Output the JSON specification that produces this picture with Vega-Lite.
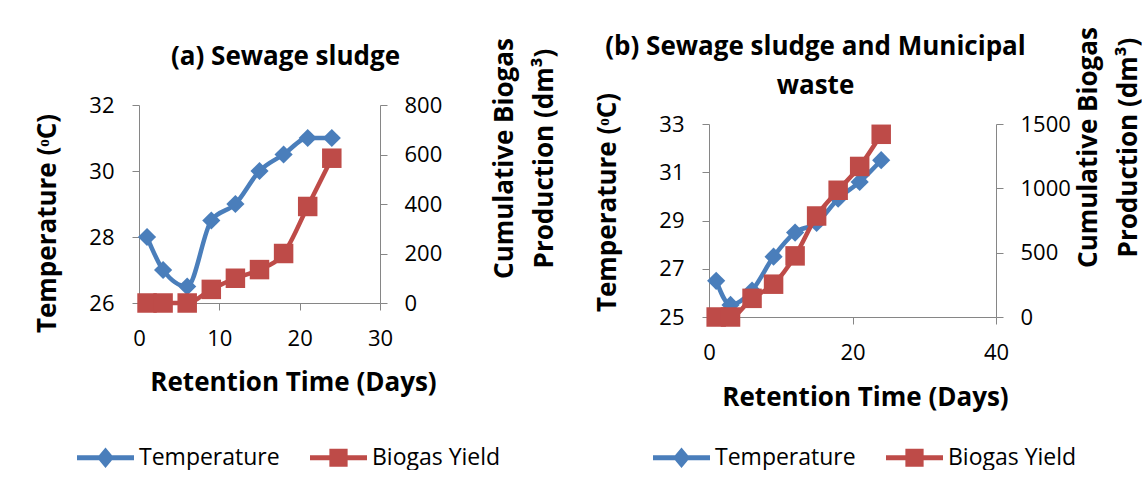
{
  "$schema": "https://vega.github.io/schema/vega-lite/v6.json",
  "background": "white",
  "padding": {"left": 34, "top": 26, "right": 0, "bottom": 0},
  "config": {
    "font": "Open Sans",
    "view": {"stroke": null},
    "axis": {"domainColor": "#868686", "tickColor": "#868686", "tickSize": 7, "labelFontSize": 22, "labelColor": "#000000", "titleFontSize": 26, "titleFontWeight": "bold", "titleColor": "#000000", "grid": false, "labelFont": "Open Sans", "titleFont": "Open Sans", "labelFlush": false, "labelOverlap": false}
  },
  "datasets": {
    "a": [
      {"day": 1, "series": "Temperature", "value": 28},
      {"day": 3, "series": "Temperature", "value": 27},
      {"day": 6, "series": "Temperature", "value": 26.5},
      {"day": 9, "series": "Temperature", "value": 28.5},
      {"day": 12, "series": "Temperature", "value": 29},
      {"day": 15, "series": "Temperature", "value": 30},
      {"day": 18, "series": "Temperature", "value": 30.5},
      {"day": 21, "series": "Temperature", "value": 31},
      {"day": 24, "series": "Temperature", "value": 31},
      {"day": 1, "series": "Biogas Yield", "value": 0},
      {"day": 3, "series": "Biogas Yield", "value": 0},
      {"day": 6, "series": "Biogas Yield", "value": 0},
      {"day": 9, "series": "Biogas Yield", "value": 55},
      {"day": 12, "series": "Biogas Yield", "value": 100},
      {"day": 15, "series": "Biogas Yield", "value": 135},
      {"day": 18, "series": "Biogas Yield", "value": 200},
      {"day": 21, "series": "Biogas Yield", "value": 390},
      {"day": 24, "series": "Biogas Yield", "value": 585}
    ],
    "b": [
      {"day": 1, "series": "Temperature", "value": 26.5},
      {"day": 3, "series": "Temperature", "value": 25.5},
      {"day": 6, "series": "Temperature", "value": 26.1},
      {"day": 9, "series": "Temperature", "value": 27.5},
      {"day": 12, "series": "Temperature", "value": 28.5},
      {"day": 15, "series": "Temperature", "value": 28.9},
      {"day": 18, "series": "Temperature", "value": 29.9},
      {"day": 21, "series": "Temperature", "value": 30.6},
      {"day": 24, "series": "Temperature", "value": 31.5},
      {"day": 1, "series": "Biogas Yield", "value": 0},
      {"day": 3, "series": "Biogas Yield", "value": 0},
      {"day": 6, "series": "Biogas Yield", "value": 145},
      {"day": 9, "series": "Biogas Yield", "value": 255},
      {"day": 12, "series": "Biogas Yield", "value": 475},
      {"day": 15, "series": "Biogas Yield", "value": 785},
      {"day": 18, "series": "Biogas Yield", "value": 985},
      {"day": 21, "series": "Biogas Yield", "value": 1170},
      {"day": 24, "series": "Biogas Yield", "value": 1420}
    ]
  },
  "columns": 2,
  "align": "none",
  "spacing": 36,
  "concat": [
    {
      "width": 241,
      "height": 198,
      "data": {"name": "a"},
      "layer": [
        {
          "transform": [{"filter": "datum.series === 'Temperature'"}],
          "mark": {"type": "line", "strokeWidth": 4.5, "interpolate": "monotone", "point": {"shape": "diamond", "size": 330, "filled": true, "opacity": 1}},
          "encoding": {
            "x": {"field": "day", "type": "quantitative", "scale": {"domain": [0, 30]}, "axis": {"orient": "bottom", "values": [0, 10, 20, 30], "title": "Retention Time (Days)", "titleX": 154, "titlePadding": 20, "labelPadding": 18}},
            "y": {"field": "value", "type": "quantitative", "scale": {"domain": [26, 32], "zero": false}, "axis": {"values": [26, 28, 30, 32], "title": "Temperature (ᵒC)", "titleY": 118, "titlePadding": 28, "labelPadding": 18}},
            "color": {"field": "series", "type": "nominal", "scale": {"domain": ["Temperature", "Biogas Yield"], "range": ["#4A7EBB", "#BE4B48"]},
              "legend": {"title": null, "orient": "none", "legendX": -62, "legendY": 324, "direction": "horizontal", "columns": 2, "padding": 0, "symbolSize": 3249, "labelFontSize": 23, "labelFont": "Open Sans", "labelColor": "#000000", "labelOffset": 5, "columnPadding": 30, "symbolStrokeWidth": 0,
                "encode": {"symbols": {"update": {
                  "shape": {"signal": "datum.value === 'Temperature' ? 'M-1,-0.085L1,-0.085L1,0.085L-1,0.085Z M0,-0.36L0.3,0L0,0.36L-0.3,0Z' : 'M-1,-0.085L1,-0.085L1,0.085L-1,0.085Z M-0.32,-0.32L0.32,-0.32L0.32,0.32L-0.32,0.32Z'"},
                  "fill": {"signal": "datum.value === 'Temperature' ? '#4A7EBB' : '#BE4B48'"},
                  "opacity": {"value": 1}, "strokeWidth": {"value": 0}}}}}}
          }
        },
        {
          "transform": [{"filter": "datum.series === 'Biogas Yield'"}],
          "mark": {"type": "line", "strokeWidth": 4.5, "interpolate": "monotone", "point": {"shape": "square", "size": 380, "filled": true, "opacity": 1}},
          "encoding": {
            "x": {"field": "day", "type": "quantitative", "scale": {"domain": [0, 30]}, "axis": {"orient": "top", "domain": false, "ticks": false, "labels": false, "title": "(a) Sewage sludge", "titleBaseline": "top", "titleAlign": "center", "titleX": 146, "titleY": -62}},
            "y": {"field": "value", "type": "quantitative", "scale": {"domain": [0, 800]}, "axis": {"orient": "right", "values": [0, 200, 400, 600, 800], "format": "d", "title": ["Cumulative Biogas", "Production (dm³)"], "titleAngle": 270, "titleBaseline": "top", "titleLineHeight": 40, "titleY": 53, "titlePadding": 10, "labelPadding": 17}},
            "color": {"field": "series", "type": "nominal", "scale": {"domain": ["Temperature", "Biogas Yield"], "range": ["#4A7EBB", "#BE4B48"]}}
          }
        }
      ],
      "resolve": {"scale": {"y": "independent"}, "axis": {"x": "independent"}}
    },
    {
      "width": 287,
      "height": 212,
      "data": {"name": "b"},
      "layer": [
        {
          "transform": [{"filter": "datum.series === 'Temperature'"}],
          "mark": {"type": "line", "strokeWidth": 4.5, "interpolate": "monotone", "point": {"shape": "diamond", "size": 330, "filled": true, "opacity": 1}},
          "encoding": {
            "x": {"field": "day", "type": "quantitative", "scale": {"domain": [0, 40]}, "axis": {"orient": "bottom", "values": [0, 20, 40], "title": "Retention Time (Days)", "titleX": 156, "titlePadding": 21, "labelPadding": 18}},
            "y": {"field": "value", "type": "quantitative", "scale": {"domain": [25, 33], "zero": false, "range": [212, 19]}, "axis": {"values": [25, 27, 29, 31, 33], "title": "Temperature (ᵒC)", "titleY": 97, "titlePadding": 38, "labelPadding": 18}},
            "color": {"field": "series", "type": "nominal", "scale": {"domain": ["Temperature", "Biogas Yield"], "range": ["#4A7EBB", "#BE4B48"]},
              "legend": {"title": null, "orient": "none", "legendX": -56, "legendY": 324, "direction": "horizontal", "columns": 2, "padding": 0, "symbolSize": 3249, "labelFontSize": 23, "labelFont": "Open Sans", "labelColor": "#000000", "labelOffset": 5, "columnPadding": 30, "symbolStrokeWidth": 0,
                "encode": {"symbols": {"update": {
                  "shape": {"signal": "datum.value === 'Temperature' ? 'M-1,-0.085L1,-0.085L1,0.085L-1,0.085Z M0,-0.36L0.3,0L0,0.36L-0.3,0Z' : 'M-1,-0.085L1,-0.085L1,0.085L-1,0.085Z M-0.32,-0.32L0.32,-0.32L0.32,0.32L-0.32,0.32Z'"},
                  "fill": {"signal": "datum.value === 'Temperature' ? '#4A7EBB' : '#BE4B48'"},
                  "opacity": {"value": 1}, "strokeWidth": {"value": 0}}}}}}
          }
        },
        {
          "transform": [{"filter": "datum.series === 'Biogas Yield'"}],
          "mark": {"type": "line", "strokeWidth": 4.5, "interpolate": "monotone", "point": {"shape": "square", "size": 380, "filled": true, "opacity": 1}},
          "encoding": {
            "x": {"field": "day", "type": "quantitative", "scale": {"domain": [0, 40]}, "axis": {"orient": "top", "domain": false, "ticks": false, "labels": false, "title": ["(b) Sewage sludge and Municipal", "waste"], "titleBaseline": "top", "titleAlign": "center", "titleLineHeight": 39, "titleX": 106, "titleY": -72}},
            "y": {"field": "value", "type": "quantitative", "scale": {"domain": [0, 1500], "range": [212, 19]}, "axis": {"orient": "right", "values": [0, 500, 1000, 1500], "format": "d", "title": ["Cumulative Biogas", "Production (dm³)"], "titleAngle": 270, "titleBaseline": "top", "titleLineHeight": 40, "titleY": 42, "titlePadding": -35, "labelPadding": 17}},
            "color": {"field": "series", "type": "nominal", "scale": {"domain": ["Temperature", "Biogas Yield"], "range": ["#4A7EBB", "#BE4B48"]}}
          }
        }
      ],
      "resolve": {"scale": {"y": "independent"}, "axis": {"x": "independent"}}
    }
  ],
  "resolve": {"scale": {"color": "independent"}}
}
